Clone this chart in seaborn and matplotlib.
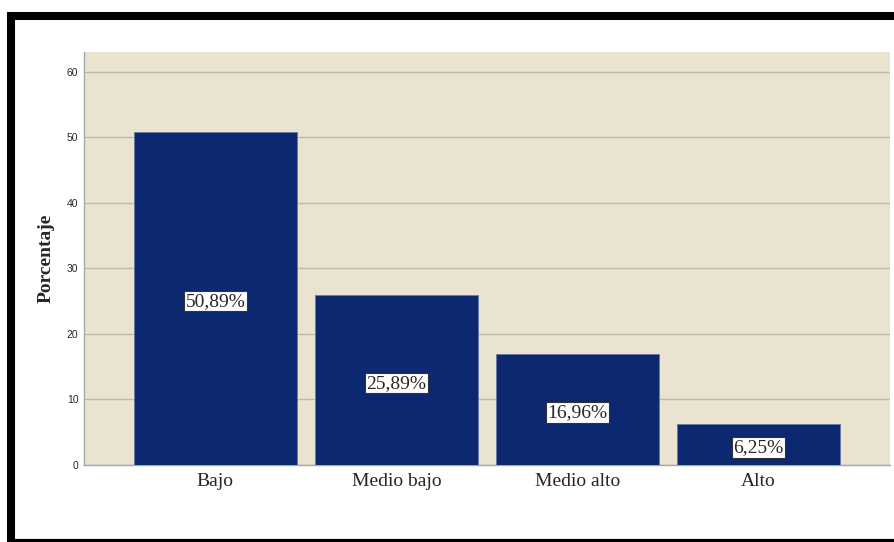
import matplotlib
matplotlib.use("Agg")
import matplotlib.pyplot as plt
import matplotlib.transforms as mtransforms
import seaborn as sns
import pandas as pd
from matplotlib.lines import Line2D

categorias = ["Bajo", "Medio bajo", "Medio alto", "Alto"]
porcentajes = [50.89, 25.89, 16.96, 6.25]
etiquetas = ["50,89%", "25,89%", "16,96%", "6,25%"]
yticks = [0, 10, 20, 30, 40, 50, 60]

sns.set_style("white")
plt.rcParams["font.family"] = ["Liberation Serif", "DejaVu Serif"]

df = pd.DataFrame({"categoria": categorias, "porcentaje": porcentajes})

fig = plt.figure(figsize=(8.95, 5.42), dpi=100)
ax = fig.add_axes([84 / 895, 1 - 465 / 542, (890 - 84) / 895, (465 - 52) / 542])
ax.set_facecolor("#e9e3cf")

sns.barplot(data=df, x="categoria", y="porcentaje", color="#0b2870",
            saturation=1, width=0.9, ax=ax, zorder=3,
            edgecolor="#6a7aa6", linewidth=0.7)

ax.set_xlim(-0.725, 3.725)
ax.set_ylim(0, 63.05)
ax.set_yticks(yticks)
ax.set_yticklabels([str(v) for v in yticks], family="Liberation Sans", fontsize=7.5)
ax.yaxis.grid(True, color="#bcb9b1", linewidth=1.0, zorder=1)
ax.set_axisbelow(True)
ax.tick_params(axis="x", length=0, labelsize=14, pad=6)
ax.tick_params(axis="y", length=0, pad=4)

for s in ["top", "right"]:
    ax.spines[s].set_visible(False)
for s in ["left", "bottom"]:
    ax.spines[s].set_color("#a8a8a8")
    ax.spines[s].set_linewidth(1.0)

ax.set_xlabel("")
ax.set_ylabel("Porcentaje", fontsize=14, fontweight="bold", labelpad=9)

# etiquetas de valor en el centro de cada barra
desplazar = mtransforms.offset_copy(ax.transData, fig=fig, x=0, y=-3, units="dots")
for i, (v, t) in enumerate(zip(porcentajes, etiquetas)):
    ax.text(i, v / 2, t, ha="center", va="center", fontsize=14, zorder=5,
            transform=desplazar,
            bbox=dict(boxstyle="square,pad=0.08", facecolor="white",
                      edgecolor="#333333", linewidth=0.8))

# marco negro alrededor de la figura
W, H = 895, 542
fig.add_artist(Line2D([8 / W, 1], [1 - 15.5 / H] * 2, color="black",
                      linewidth=5.8, solid_capstyle="butt",
                      transform=fig.transFigure))
fig.add_artist(Line2D([11.5 / W] * 2, [0, 1 - 12 / H], color="black",
                      linewidth=5.8, solid_capstyle="butt",
                      transform=fig.transFigure))
fig.add_artist(Line2D([8 / W, 1], [1 - 540.5 / H] * 2, color="black",
                      linewidth=3.0, solid_capstyle="butt",
                      transform=fig.transFigure))

fig.savefig("out.png", dpi=100, facecolor="white")
